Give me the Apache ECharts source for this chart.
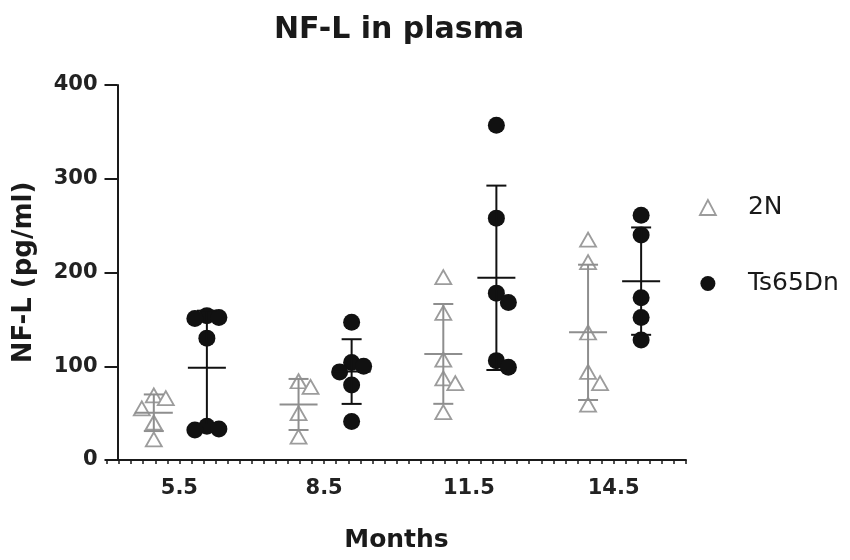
<!DOCTYPE html>
<html>
<head>
<meta charset="utf-8">
<script src="https://cdn.jsdelivr.net/npm/echarts@6/dist/echarts.min.js"></script>
<style>html,body{margin:0;padding:0;background:#fff}#c{width:850px;height:560px}</style>
</head>
<body>
<div id="c"></div>
<script>
// ---- data ----
const months = [5.5, 8.5, 11.5, 14.5];
const monthLabels = ['5.5', '8.5', '11.5', '14.5'];
const wt55 = [69, 66, 55, 40, 22];
const wt85 = [84, 78, 50, 25];
const wt115 = [195, 157, 107, 87, 82, 51];
const wt145 = [235, 211, 136, 94, 82, 59];
const ts55 = [154, 152, 151, 130, 36, 33, 32];
const ts85 = [147, 104, 100, 94, 80, 41];
const ts115 = [357, 258, 178, 168, 106, 99];
const ts145 = [261, 240, 173, 152, 128];
const wtGroups = [wt55, wt85, wt115, wt145];
const tsGroups = [ts55, ts85, ts115, ts145];

// ---- layout constants ----
const GRID_L = 107, GRID_R = 164, GRID_T = 85, GRID_B = 100;
const X_MIN = 4, X_MAX = 16;
const PX_PER_MONTH = (850 - GRID_L - GRID_R) / (X_MAX - X_MIN);
const PX_PER_UNIT = (560 - GRID_T - GRID_B) / 400;
const STEP = 12, ROW_H = 16;
const WT_SHIFT = -0.53, TS_SHIFT = 0.57;
const GREY = '#9c9c9c', GREY_BAR = '#8e8e8e', BLACK = '#111';
const FONT = 'DejaVu Sans';

// spread points that would overlap (computed from the values)
function swarm(center, values) {
  const sorted = values.slice().sort((a, b) => b - a);
  const placed = [];
  sorted.forEach(v => {
    const y = v * PX_PER_UNIT;
    const cands = [0];
    for (let k = 1; k < 8; k++) cands.push(k * STEP, -k * STEP);
    for (const dx of cands) {
      const hit = placed.some(p => Math.abs(p.dx - dx) < STEP && Math.abs(p.y - y) < ROW_H);
      if (!hit) { placed.push({ dx, y, v }); break; }
    }
  });
  return placed.map(p => [center + p.dx / PX_PER_MONTH, p.v]);
}
function meanSd(arr) {
  const m = arr.reduce((a, b) => a + b, 0) / arr.length;
  const sd = Math.sqrt(arr.reduce((a, b) => a + (b - m) * (b - m), 0) / (arr.length - 1));
  return [m, sd];
}

const wtPoints = [], tsPoints = [], wtBars = [], tsBars = [];
months.forEach((m, i) => {
  wtPoints.push(...swarm(m + WT_SHIFT, wtGroups[i]));
  tsPoints.push(...swarm(m + TS_SHIFT, tsGroups[i]));
  wtBars.push([m + WT_SHIFT, ...meanSd(wtGroups[i])]);
  tsBars.push([m + TS_SHIFT, ...meanSd(tsGroups[i])]);
});

function errRender(color) {
  return function (params, api) {
    const x = api.value(0), m = api.value(1), sd = api.value(2);
    const c = api.coord([x, m]);
    const t = api.coord([x, m + sd]);
    const b = api.coord([x, m - sd]);
    const st = { stroke: color, lineWidth: 2 };
    return {
      type: 'group',
      children: [
        { type: 'line', shape: { x1: c[0], y1: t[1], x2: c[0], y2: b[1] }, style: st },
        { type: 'line', shape: { x1: c[0] - 10, y1: t[1], x2: c[0] + 10, y2: t[1] }, style: st },
        { type: 'line', shape: { x1: c[0] - 10, y1: b[1], x2: c[0] + 10, y2: b[1] }, style: st },
        { type: 'line', shape: { x1: c[0] - 19, y1: c[1], x2: c[0] + 19, y2: c[1] }, style: st }
      ]
    };
  };
}

const chart = echarts.init(document.getElementById('c'));
chart.setOption({
  animation: false,
  backgroundColor: '#fff',
  title: {
    text: 'NF-L in plasma', left: 269, top: 10,
    textStyle: { fontFamily: FONT, fontWeight: 'bold', fontSize: 30, color: '#1a1a1a' }
  },
  legend: {
    orient: 'vertical', left: 694, top: 190,
    itemWidth: 16, itemHeight: 15, itemGap: 51,
    symbolKeepAspect: true,
    textStyle: { fontFamily: FONT, fontSize: 25, color: '#1a1a1a', padding: [0, 0, 0, 27] },
    data: [
      { name: '2N', icon: 'triangle', itemStyle: { color: '#fff', borderColor: GREY, borderWidth: 1.8 } },
      { name: 'Ts65Dn', icon: 'circle', itemStyle: { color: BLACK, borderWidth: 0 } }
    ]
  },
  grid: { left: GRID_L, right: GRID_R, top: GRID_T, bottom: GRID_B, containLabel: false, outerBoundsMode: 'none' },
  xAxis: [
    {
      type: 'category', position: 'bottom', data: monthLabels, boundaryGap: true,
      name: 'Months', nameLocation: 'middle', nameGap: 68,
      nameTextStyle: { fontFamily: FONT, fontWeight: 'bold', fontSize: 25, color: '#1a1a1a' },
      axisLine: { lineStyle: { color: '#1a1a1a', width: 2 } },
      axisTick: { alignWithLabel: true, length: 13, lineStyle: { color: '#1a1a1a', width: 2 } },
      axisLabel: { margin: 18, fontFamily: FONT, fontWeight: 'bold', fontSize: 21, color: '#222' },
      splitLine: { show: false }
    },
    {
      type: 'value', position: 'bottom', min: X_MIN, max: X_MAX, interval: 0.25,
      axisLine: { show: false },
      axisTick: { show: true, length: 4, lineStyle: { color: '#1a1a1a', width: 1.5 } },
      axisLabel: { show: false },
      splitLine: { show: false }
    }
  ],
  yAxis: {
    type: 'value', min: 0, max: 400, interval: 100, offset: -10.5,
    name: 'NF-L (pg/ml)', nameLocation: 'middle', nameRotate: 90, nameGap: 80,
    nameTextStyle: { fontFamily: FONT, fontWeight: 'bold', fontSize: 26, color: '#1a1a1a' },
    axisLine: { show: true, onZero: false, lineStyle: { color: '#1a1a1a', width: 2 } },
    axisTick: { show: true, length: 13, lineStyle: { color: '#1a1a1a', width: 2 } },
    axisLabel: { margin: 20, fontFamily: FONT, fontWeight: 'bold', fontSize: 21, color: '#222' },
    splitLine: { show: false }
  },
  series: [
    {
      name: '2N', type: 'scatter', xAxisIndex: 1, data: wtPoints,
      symbol: 'triangle', symbolSize: [16, 14],
      itemStyle: { color: '#fff', borderColor: GREY, borderWidth: 1.8, opacity: 1 }, z: 3
    },
    {
      name: 'Ts65Dn', type: 'scatter', xAxisIndex: 1, data: tsPoints,
      symbol: 'circle', symbolSize: 17,
      itemStyle: { color: BLACK, opacity: 1 }, z: 3
    },
    {
      type: 'custom', xAxisIndex: 1, data: wtBars, renderItem: errRender(GREY_BAR), z: 4,
      encode: { x: 0, y: 1 }, silent: true
    },
    {
      type: 'custom', xAxisIndex: 1, data: tsBars, renderItem: errRender(BLACK), z: 4,
      encode: { x: 0, y: 1 }, silent: true
    }
  ]
});
</script>
</body>
</html>
